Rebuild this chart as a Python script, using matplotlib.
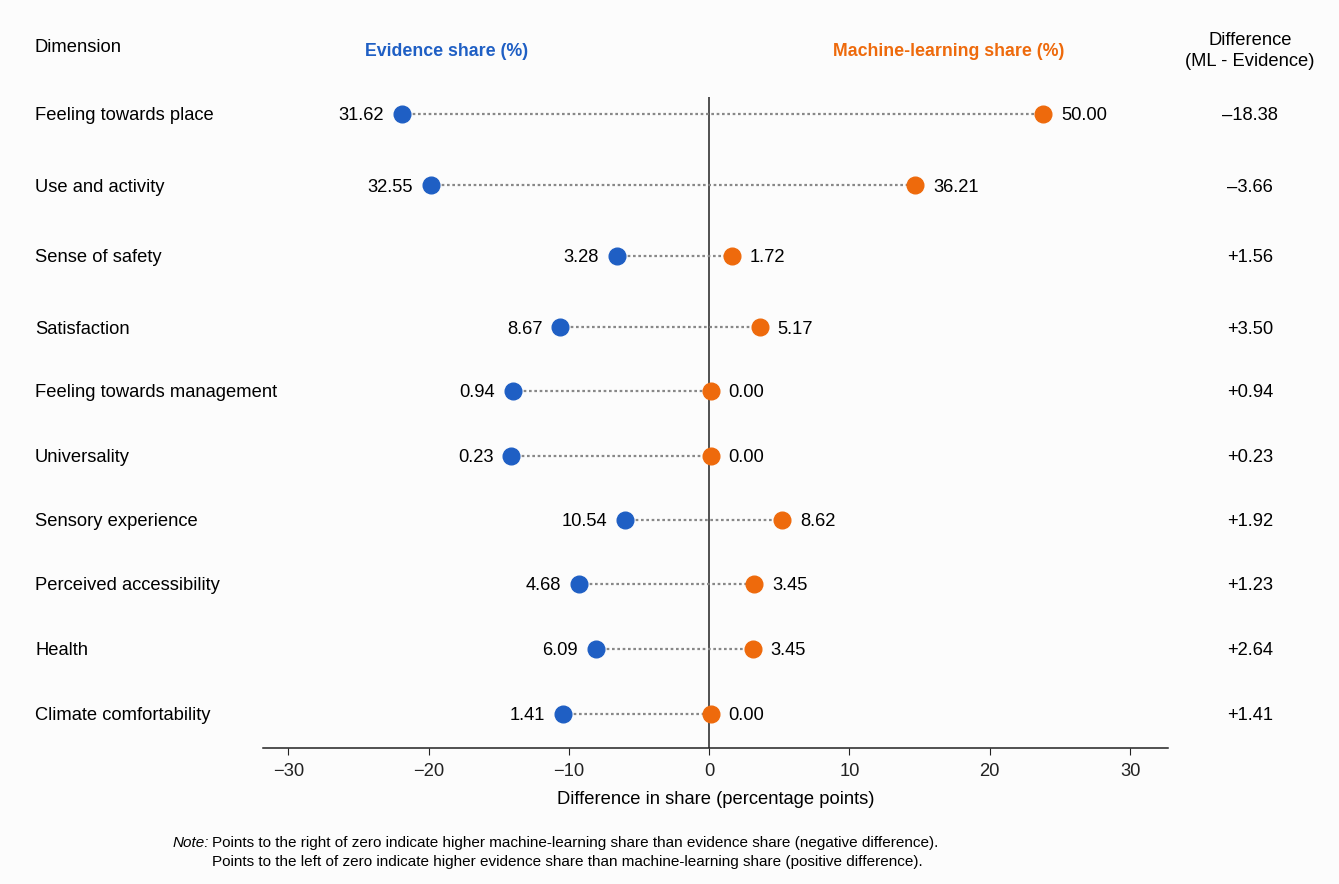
import numpy as np
import matplotlib
matplotlib.use('Agg')
import matplotlib.pyplot as plt

# ── Data ────────────────────────────────────────────────────────────────────
dimensions = [
    'Feeling towards place', 'Use and activity', 'Sense of safety', 'Satisfaction',
    'Feeling towards management', 'Universality', 'Sensory experience',
    'Perceived accessibility', 'Health', 'Climate comfortability',
]
evidence_share = [31.62, 32.55, 3.28, 8.67, 0.94, 0.23, 10.54, 4.68, 6.09, 1.41]
ml_share = [50.00, 36.21, 1.72, 5.17, 0.00, 0.00, 8.62, 3.45, 3.45, 0.00]
difference = [-18.38, -3.66, 1.56, 3.50, 0.94, 0.23, 1.92, 1.23, 2.64, 1.41]

# plotted positions on the difference axis (percentage points)
evidence_x = [-21.9, -19.8, -6.6, -10.6, -14.0, -14.1, -6.0, -9.3, -8.1, -10.4]
ml_x = [23.8, 14.7, 1.6, 3.6, 0.1, 0.1, 5.2, 3.2, 3.1, 0.1]

x_ticks = [-30, -20, -10, 0, 10, 20, 30]

# ── Style / layout ──────────────────────────────────────────────────────────
BLUE = '#1f5fc4'
ORANGE = '#ee6a0c'
FS = 13.2
# vertical gaps between rows (the top rows are spaced a little wider)
row_gaps = [0, 1.065, 1.065, 1.065, 0.96, 0.975, 0.96, 0.96, 0.975, 0.975]

plt.rcParams['font.family'] = ['Liberation Sans', 'DejaVu Sans']


def fmt_diff(v):
    return f'+{v:.2f}' if v >= 0 else f'\u2013{abs(v):.2f}'


def main():
    fig = plt.figure(figsize=(13.39, 8.84), dpi=100, facecolor='#fcfcfc')
    ax = fig.add_axes([263 / 1339, 136 / 884, 905 / 1339, 651 / 884])
    ax.set_facecolor('none')

    y = np.cumsum(row_gaps)

    ax.axvline(0, color='#222222', lw=1.1, zorder=1)

    for i in range(len(dimensions)):
        ax.plot([evidence_x[i], ml_x[i]], [y[i], y[i]], ls=(0, (1.2, 1.2)),
                color='#888888', lw=1.6, zorder=2)

    ax.plot(evidence_x, y, 'o', color=BLUE, ms=12, zorder=3)
    ax.plot(ml_x, y, 'o', color=ORANGE, ms=12, zorder=3)

    for i in range(len(dimensions)):
        ax.annotate(f'{evidence_share[i]:.2f}', (evidence_x[i], y[i]), xytext=(-13, 0),
                    textcoords='offset points', ha='right', va='center_baseline', fontsize=FS)
        ax.annotate(f'{ml_share[i]:.2f}', (ml_x[i], y[i]), xytext=(13, 0),
                    textcoords='offset points', ha='left', va='center_baseline', fontsize=FS)

    ax.set_xlim(-31.8, 32.7)
    ax.set_ylim(9.51, -0.255)
    ax.set_xticks(x_ticks)
    ax.set_xticklabels([f'{t}'.replace('-', '\u2212') for t in x_ticks], fontsize=FS)
    ax.tick_params(axis='x', length=5, width=0.8, pad=6, colors='#222222')
    ax.set_yticks([])
    for s in ['top', 'right', 'left']:
        ax.spines[s].set_visible(False)
    ax.spines['bottom'].set_color('#222222')
    ax.spines['bottom'].set_linewidth(1.1)
    ax.set_xlabel('Difference in share (percentage points)', fontsize=FS, labelpad=8)

    # dimension labels (left) and difference column (right)
    tr = ax.get_yaxis_transform()
    for i in range(len(dimensions)):
        ax.text((35 - 263) / 905, y[i], dimensions[i], transform=tr,
                ha='left', va='center_baseline', fontsize=FS)
        ax.text(1.0 + 82 / 905, y[i], fmt_diff(difference[i]), transform=tr,
                ha='center', va='center_baseline', fontsize=FS)

    # headers
    fig.text(35 / 1339, 1 - 47 / 884, 'Dimension', ha='left', va='center', fontsize=FS)
    fig.text(447 / 1339, 1 - 51 / 884, 'Evidence share (%)', ha='center', va='center',
             fontsize=12.8, color=BLUE, fontweight='bold')
    fig.text(949 / 1339, 1 - 51 / 884, 'Machine-learning share (%)', ha='center', va='center',
             fontsize=12.8, color=ORANGE, fontweight='bold')
    fig.text(1250 / 1339, 1 - 51 / 884, 'Difference\n(ML - Evidence)', ha='center',
             va='center', fontsize=FS, linespacing=1.3)

    # note
    fig.text(173 / 1339, 1 - 843 / 884, 'Note:', ha='left', va='center', fontsize=11,
             style='italic')
    fig.text(212 / 1339, 1 - 843 / 884,
             'Points to the right of zero indicate higher machine-learning share than '
             'evidence share (negative difference).', ha='left', va='center', fontsize=11)
    fig.text(212 / 1339, 1 - 862 / 884,
             'Points to the left of zero indicate higher evidence share than '
             'machine-learning share (positive difference).', ha='left', va='center', fontsize=11)

    fig.savefig('out.png', dpi=100, facecolor=fig.get_facecolor())
    plt.close(fig)


if __name__ == '__main__':
    main()
